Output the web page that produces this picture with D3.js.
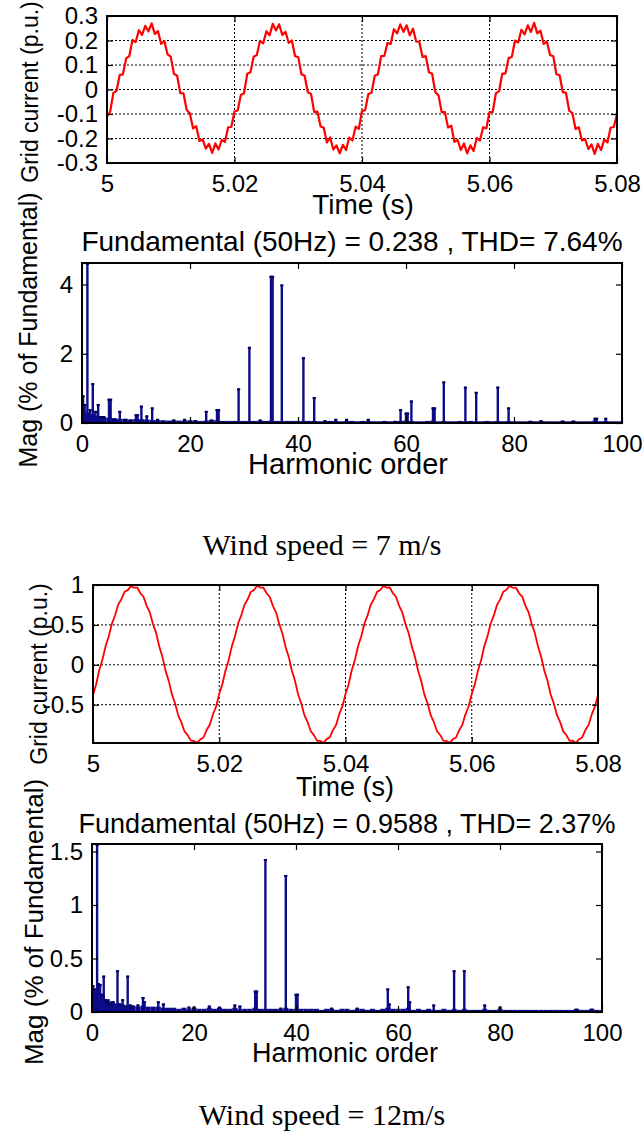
<!DOCTYPE html>
<html><head><meta charset="utf-8">
<script src="https://cdn.jsdelivr.net/npm/d3@7"></script>
<style>body{margin:0;background:#fff} svg{display:block}</style>
</head><body><svg id="c" width="644" height="1136"></svg>
<script>
// ---------- data ----------
const timeStart = 5, timeStep = 0.0005;
const timeTicks = [5, 5.02, 5.04, 5.06, 5.08];
const current7Ticks = [-0.3, -0.2, -0.1, 0, 0.1, 0.2, 0.3];
const current12Ticks = [-0.5, 0, 0.5, 1];
const harmonicTicks = [0, 20, 40, 60, 80, 100];
const spec7Ticks = [0, 2, 4];
const spec12Ticks = [0, 0.5, 1, 1.5];

const current7 = [
-0.110,-0.090,-0.014,-0.005,0.060,0.062,0.126,0.137,0.202,0.194,
0.242,0.223,0.260,0.237,0.270,0.227,0.238,0.186,0.198,0.143,
0.134,0.064,0.056,-0.015,-0.016,-0.084,-0.098,-0.159,-0.150,-0.210,
-0.204,-0.241,-0.222,-0.259,-0.220,-0.245,-0.206,-0.214,-0.154,-0.153,
-0.090,-0.086,-0.022,-0.015,0.064,0.070,0.134,0.141,0.198,0.188,
0.238,0.221,0.268,0.241,0.266,0.223,0.236,0.190,0.200,0.137,
0.132,0.062,0.056,-0.011,-0.018,-0.092,-0.090,-0.151,-0.156,-0.216,
-0.196,-0.245,-0.228,-0.261,-0.226,-0.247,-0.196,-0.208,-0.152,-0.161,
-0.088,-0.084,-0.018,-0.013,0.056,0.062,0.136,0.137,0.190,0.186,
0.246,0.229,0.266,0.235,0.262,0.221,0.248,0.196,0.194,0.133,
0.136,0.070,0.064,-0.011,-0.024,-0.092,-0.092,-0.155,-0.148,-0.214,
-0.206,-0.247,-0.220,-0.261,-0.228,-0.251,-0.198,-0.208,-0.154,-0.159,
-0.092,-0.092,-0.016,-0.007,0.064,0.066,0.128,0.133,0.200,0.192,
0.244,0.225,0.262,0.235,0.272,0.229,0.240,0.186,0.196,0.141,
0.136,0.062,0.058,-0.011,-0.014,-0.086,-0.096,-0.161,-0.154,-0.208,
-0.202,-0.243,-0.224,-0.263,-0.222,-0.247,-0.204,-0.216,-0.156,-0.153,
-0.100];

const current12 = [
-0.380,-0.243,-0.065,0.065,0.236,0.357,0.516,0.621,0.755,0.822,
0.915,0.936,0.986,0.966,0.968,0.900,0.852,0.738,0.657,0.512,
0.400,0.230,0.099,-0.076,-0.202,-0.371,-0.482,-0.634,-0.721,-0.835,
-0.881,-0.950,-0.955,-0.978,-0.935,-0.911,-0.818,-0.752,-0.623,-0.523,
-0.364,-0.241,-0.069,0.060,0.234,0.359,0.521,0.623,0.753,0.821,
0.913,0.938,0.991,0.968,0.966,0.897,0.850,0.739,0.657,0.511,
0.396,0.227,0.102,-0.072,-0.201,-0.372,-0.487,-0.634,-0.717,-0.832,
-0.882,-0.954,-0.954,-0.978,-0.931,-0.910,-0.822,-0.754,-0.622,-0.522,
-0.365,-0.244,-0.066,0.064,0.235,0.358,0.517,0.620,0.754,0.823,
0.914,0.937,0.988,0.967,0.969,0.899,0.853,0.739,0.656,0.510,
0.399,0.231,0.101,-0.075,-0.204,-0.374,-0.483,-0.632,-0.719,-0.833,
-0.880,-0.951,-0.954,-0.978,-0.934,-0.912,-0.821,-0.754,-0.621,-0.523,
-0.363,-0.242,-0.068,0.063,0.238,0.359,0.518,0.619,0.751,0.820,
0.916,0.940,0.990,0.966,0.965,0.896,0.853,0.742,0.658,0.510,
0.397,0.228,0.100,-0.075,-0.200,-0.372,-0.485,-0.632,-0.718,-0.834,
-0.883,-0.953,-0.952,-0.978,-0.933,-0.910,-0.818,-0.754,-0.625,-0.525,
-0.380];

// noise floor, harmonic orders 0..100 (% of fundamental)
const spec7Floor = [
0.35,0.30,0.25,0.20,0.18,0.15,0.14,0.12,0.12,0.10,
0.12,0.11,0.10,0.09,0.08,0.08,0.07,0.08,0.07,0.07,
0.08,0.07,0.06,0.07,0.09,0.08,0.06,0.06,0.06,0.06,
0.06,0.06,0.06,0.07,0.06,0.07,0.06,0.06,0.06,0.06,
0.06,0.06,0.06,0.06,0.05,0.06,0.06,0.06,0.05,0.06,
0.06,0.05,0.06,0.06,0.05,0.05,0.06,0.05,0.06,0.06,
0.07,0.06,0.05,0.05,0.06,0.07,0.05,0.06,0.05,0.05,
0.06,0.05,0.06,0.05,0.05,0.06,0.05,0.06,0.05,0.06,
0.05,0.05,0.05,0.06,0.05,0.06,0.05,0.05,0.05,0.06,
0.05,0.06,0.05,0.05,0.05,0.07,0.05,0.06,0.05,0.05,
0.05];
const spec7Orders = [0.2,0.5,1,1.5,2,2.5,3,3.5,4,5,5.3,6,7,8,9,10,10.3,11,12,13,14,17,19,21,23,24,25,25.3,29,31,33,35,35.3,37,41,43,45,47,49,53,58,59,60,60.3,61,65,65.3,67,71,73,77,79,83,85,89,91,95,95.3,97];
const spec7Mags   = [0.8,0.55,100,0.4,1.15,0.35,0.55,0.2,0.2,0.7,0.7,0.12,0.35,0.12,0.1,0.25,0.25,0.5,0.22,0.45,0.12,0.1,0.12,0.08,0.35,0.1,0.4,0.4,1.0,2.2,0.1,4.25,4.25,4.0,1.9,0.75,0.08,0.12,0.12,0.12,0.06,0.4,0.3,0.3,0.65,0.45,0.45,1.2,1.05,0.9,1.05,0.45,0.06,0.08,0.07,0.07,0.15,0.15,0.15];

const spec12Floor = [
0.22,0.20,0.15,0.12,0.10,0.08,0.07,0.06,0.06,0.05,
0.06,0.05,0.05,0.05,0.04,0.04,0.04,0.03,0.04,0.03,
0.04,0.03,0.03,0.04,0.03,0.04,0.03,0.03,0.04,0.03,
0.03,0.03,0.04,0.03,0.03,0.03,0.03,0.03,0.04,0.03,
0.03,0.03,0.03,0.03,0.03,0.02,0.03,0.03,0.02,0.03,
0.03,0.02,0.03,0.03,0.02,0.03,0.02,0.03,0.04,0.03,
0.03,0.03,0.04,0.02,0.03,0.02,0.03,0.02,0.02,0.03,
0.02,0.03,0.02,0.03,0.02,0.02,0.02,0.03,0.02,0.02,
0.03,0.02,0.02,0.02,0.02,0.02,0.02,0.02,0.02,0.02,
0.02,0.02,0.02,0.02,0.02,0.03,0.02,0.02,0.03,0.02,
0.02];
const spec12Orders = [0.2,0.5,1,1.3,1.6,2,2.3,2.6,3,3.5,4,5,5.5,6,6.5,7,7.5,8,9,10,10.3,13,14,19,20,23,25,28,29,32,32.3,34,37,38,40,40.3,47,52,58,58.3,62,62.3,67,71,73,77,80,95,98];
const spec12Mags   = [0.25,0.22,100,0.27,0.26,0.17,0.34,0.12,0.1,0.08,0.1,0.39,0.08,0.12,0.06,0.34,0.07,0.06,0.07,0.14,0.1,0.1,0.08,0.05,0.05,0.06,0.05,0.07,0.06,0.2,0.2,1.43,0.04,1.28,0.17,0.17,0.04,0.04,0.22,0.08,0.24,0.1,0.07,0.39,0.39,0.07,0.05,0.03,0.03];

const title7 = "Fundamental (50Hz) = 0.238 , THD= 7.64%";
const title12 = "Fundamental (50Hz) = 0.9588 , THD= 2.37%";
const caption7 = "Wind speed = 7 m/s";
const caption12 = "Wind speed = 12m/s";

// ---------- drawing ----------
const SANS = "'Liberation Sans', Arial, sans-serif";
const SERIF = "'Liberation Serif', 'Times New Roman', serif";
const svg = d3.select('#c');
const fmt = d => String(d);
let clipId = 0;

function frame(g, x, y, xTicks, yTicks, opt) {
  const [L, R] = x.range(), [B, T] = y.range();
  const style = s => { s.select('.domain').remove(); s.attr('font-size', 24).attr('font-family', SANS);
    s.selectAll('.tick line').attr('stroke', '#000').attr('stroke-width', 1.2);
    s.selectAll('.tick text').attr('fill', '#000'); };
  g.append('g').attr('transform', `translate(0,${B})`)
    .call(d3.axisBottom(x).tickValues(xTicks).tickSizeInner(-6).tickSizeOuter(0).tickPadding(opt.padX).tickFormat(fmt)).call(style);
  g.append('g').attr('transform', `translate(0,${T})`)
    .call(d3.axisTop(x).tickValues(xTicks).tickSizeInner(-6).tickSizeOuter(0).tickFormat(() => '')).call(style);
  g.append('g').attr('transform', `translate(${L},0)`)
    .call(d3.axisLeft(y).tickValues(yTicks).tickSizeInner(-6).tickSizeOuter(0).tickPadding(opt.padY).tickFormat(fmt)).call(style);
  g.append('g').attr('transform', `translate(${R},0)`)
    .call(d3.axisRight(y).tickValues(yTicks).tickSizeInner(-6).tickSizeOuter(0).tickFormat(() => '')).call(style);
  g.append('rect').attr('x', L).attr('y', T).attr('width', R - L).attr('height', B - T)
    .attr('fill', 'none').attr('stroke', '#000').attr('stroke-width', 2);
}

function clip(x, y) {
  const id = 'clip' + (clipId++);
  const [L, R] = x.range(), [B, T] = y.range();
  svg.append('clipPath').attr('id', id).append('rect').attr('x', L).attr('y', T).attr('width', R - L).attr('height', B - T);
  return `url(#${id})`;
}

function label(txt, cx, cy, size, rot, family) {
  const t = svg.append('text').text(txt).attr('font-family', family || SANS).attr('font-size', size)
    .attr('text-anchor', 'middle').attr('fill', '#000');
  if (rot) t.attr('transform', `translate(${cx},${cy}) rotate(-90)`);
  else t.attr('x', cx).attr('y', cy);
}

function timePanel(values, yDomain, yTicks, box, texts) {
  const x = d3.scaleLinear().domain([timeTicks[0], timeTicks[timeTicks.length - 1]]).range([box.L, box.R]);
  const y = d3.scaleLinear().domain(yDomain).range([box.B, box.T]);
  const g = svg.append('g');
  const grid = g.append('g').attr('stroke', '#000').attr('stroke-width', 1).attr('stroke-dasharray', '2,2');
  timeTicks.slice(1, -1).forEach(t => grid.append('line').attr('x1', x(t)).attr('x2', x(t)).attr('y1', box.T).attr('y2', box.B));
  yTicks.filter(v => v > yDomain[0] && v < yDomain[1]).forEach(v => grid.append('line').attr('x1', box.L).attr('x2', box.R).attr('y1', y(v)).attr('y2', y(v)));
  const line = d3.line().x((d, i) => x(timeStart + i * timeStep)).y(d => y(d));
  g.append('path').datum(values).attr('d', line).attr('fill', 'none').attr('stroke', '#ff0000')
    .attr('stroke-width', box.lw).attr('stroke-linejoin', 'round').attr('clip-path', clip(x, y));
  frame(g, x, y, timeTicks, yTicks, { padX: 12, padY: 9 });
  label('Time (s)', texts.xl[0], texts.xl[1], texts.xs);
  label('Grid current (p.u.)', texts.yl[0], texts.yl[1], texts.ys, true);
}

function specPanel(floor, orders, mags, yMax, yTicks, box, texts) {
  const x = d3.scaleLinear().domain([harmonicTicks[0], harmonicTicks[harmonicTicks.length - 1]]).range([box.L, box.R]);
  const y = d3.scaleLinear().domain([0, yMax]).range([box.B, box.T]);
  const g = svg.append('g');
  const bars = g.append('g').attr('clip-path', clip(x, y)).attr('fill', '#0c0c8a');
  bars.selectAll('rect.fl').data(floor).join('rect').attr('class', 'fl')
    .attr('x', (d, i) => x(i - 0.5)).attr('width', (d, i) => x(i + 0.5) - x(i - 0.5))
    .attr('y', d => y(d)).attr('height', d => y(0) - y(d));
  const stems = orders.map((o, i) => ({ o, m: Math.min(mags[i], yMax) }));
  bars.selectAll('rect.st').data(stems).join('rect').attr('class', 'st')
    .attr('x', d => x(d.o) - 1.2).attr('width', 2.4)
    .attr('y', d => y(d.m)).attr('height', d => y(0) - y(d.m));
  bars.selectAll('rect.cap').data(stems).join('rect').attr('class', 'cap').attr('fill', '#00005a')
    .attr('x', d => x(d.o) - 1.6).attr('width', 3.2)
    .attr('y', d => y(d.m)).attr('height', 2);
  frame(g, x, y, harmonicTicks, yTicks, { padX: 12, padY: 9 });
  label(texts.title, texts.t[0], texts.t[1], texts.ts);
  label('Harmonic order', texts.xl[0], texts.xl[1], texts.xs);
  label('Mag (% of Fundamental)', texts.yl[0], texts.yl[1], texts.ys, true);
}

timePanel(current7, [-0.3, 0.3], current7Ticks, { L: 107, R: 617, T: 16, B: 163, lw: 2.2 },
  { xl: [363, 214], xs: 28, yl: [38, 92], ys: 23 });
specPanel(spec7Floor, spec7Orders, spec7Mags, 4.62, spec7Ticks, { L: 82, R: 622, T: 263, B: 423 },
  { title: title7, t: [352, 251], ts: 28, xl: [348, 474], xs: 29, yl: [37, 330], ys: 25 });
label(caption7, 322, 555, 30, false, SERIF);

timePanel(current12, [-0.98, 1], current12Ticks, { L: 93, R: 598, T: 585, B: 743, lw: 1.8 },
  { xl: [345, 796], xs: 27, yl: [47, 674], ys: 23 });
specPanel(spec12Floor, spec12Orders, spec12Mags, 1.57, spec12Ticks, { L: 92, R: 602, T: 844, B: 1012 },
  { title: title12, t: [347, 833], ts: 27, xl: [345, 1062], xs: 27, yl: [43, 922], ys: 26 });
label(caption12, 322, 1125, 30, false, SERIF);
</script></body></html>
